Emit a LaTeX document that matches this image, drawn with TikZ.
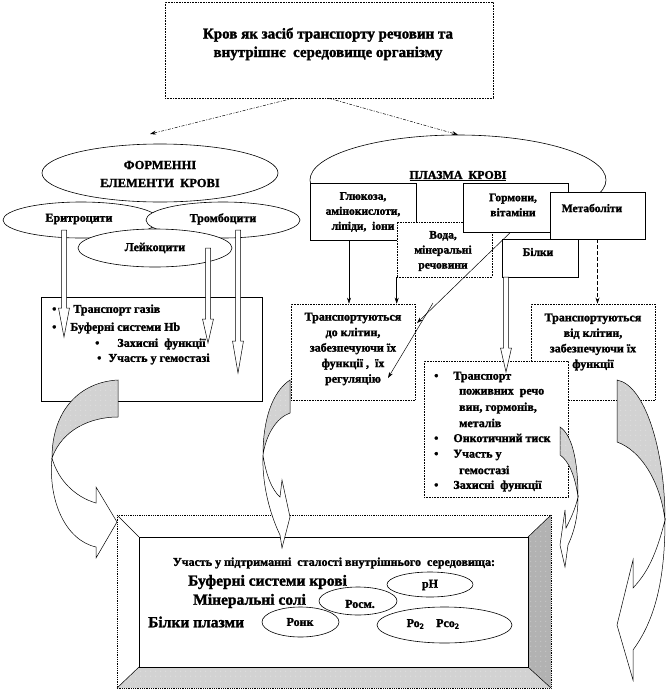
\documentclass[tikz,border=0pt]{standalone}
\usepackage{fontspec}
\setmainfont{Liberation Serif}[BoldFeatures={FakeBold=1.6}]
\usetikzlibrary{shapes.geometric,arrows.meta,calc,patterns.meta}
\tikzdeclarepattern{name=wdots, type=uncolored, bounding box={(0pt,0pt) and (5pt,5pt)}, tile size={(5pt,5pt)}, code={\fill (1pt,1pt) circle (0.45pt);}}
\newcommand\hollowarr[4]{%
  \filldraw[fill=white, line width=0.5pt] ({#1-2.5},#2) -- ({#1+2.5},#2) -- ({#1+2.5},{#3-#4}) -- ({#1+5.5},{#3-#4}) -- (#1,#3) -- ({#1-5.5},{#3-#4}) -- ({#1-2.5},{#3-#4}) -- cycle;}
\begin{document}
\begin{tikzpicture}[x=1pt,y=-1pt,
  bx/.style={draw, fill=white, inner sep=0pt, line width=0.6pt},
  dbx/.style={bx, densely dotted},
  el/.style={draw, ellipse, fill=white, inner sep=0pt, line width=0.6pt},
  tx/.style={inner sep=0pt, align=center, font=\bfseries\fontsize{12}{15.5}\selectfont},
  ltx/.style={tx, anchor=west},
  dashconn/.style={dash pattern=on 3pt off 1.5pt on 1pt off 1.5pt, line width=0.5pt, -{Stealth[length=6pt,width=4pt]}},
  conn/.style={line width=0.5pt, -{Stealth[length=6pt,width=4pt]}},
  shd/.style={fill=gray!35, draw, line width=0.5pt, postaction={pattern={wdots}, pattern color=white}},
  wpart/.style={fill=white, draw, line width=0.5pt}
]
\useasboundingbox (0,0) rectangle (666,691);

% title
\node[dbx, minimum width=328pt, minimum height=96pt] (title) at (329,50) {};
\node[tx, font=\bfseries\fontsize{15}{18.5}\selectfont] (titletx) at (328,44) {Кров як засіб транспорту речовин та\\внутрішнє\ \ середовище організму};

% formed elements
\node[el, minimum width=236pt, minimum height=58pt] (form) at (160,173) {};
\node[tx, font=\bfseries\fontsize{12.5}{18}\selectfont] (formtx) at (160,174) {ФОРМЕННІ\\ЕЛЕМЕНТИ\ \ КРОВІ};
\node[el, minimum width=156pt, minimum height=36pt] (ery) at (81,220) {};
\node[el, minimum width=154pt, minimum height=36pt] (thr) at (223,220) {};
\node[el, minimum width=154pt, minimum height=38pt] (leu) at (155,248) {};
\node[tx] at (79,219) {Еритроцити};
\node[tx] at (223,219) {Тромбоцити};
\node[tx] at (155,248) {Лейкоцити};

% plasma
\node[el, minimum width=296pt, minimum height=90pt] (plasma) at (458,180) {};

% title arrows
\coordinate (fa) at (150,134);
\draw[dashconn] ([xshift=-36pt]title.south) -- (fa);
\draw[dashconn] (title.south) -- (plasma.north);

% left box
\node[bx, minimum width=221pt, minimum height=104pt] (lbox) at (151.5,349) {};
\node[ltx] at (52,310) {•\hspace{17pt}Транспорт газів};
\node[ltx] at (52,328) {•\hspace{14pt}Буферні системи Hb};
\node[ltx] at (95,344) {•\hspace{18pt}Захисні\ \ функції};
\node[ltx] at (97,359) {•\hspace{7pt}Участь у гемостазі};

% hollow arrows
\hollowarr{64}{230}{337}{29}
\hollowarr{208}{248}{343}{24}
\hollowarr{238}{230}{373}{32}

% plasma label
\node[tx] at (458,176) {\underline{ПЛАЗМА\ \ КРОВІ}};

% plasma boxes
\node[bx, minimum width=106pt, minimum height=57pt] (glu) at (363,211.5) {};
\node[tx, font=\bfseries\fontsize{11.5}{15}\selectfont] at (363,212) {Глюкоза,\\амінокислоти,\\ліпіди,\ \ іони};
\node[dbx, minimum width=95pt, minimum height=55pt] (voda) at (444.5,249.5) {};
\node[tx, font=\bfseries\fontsize{11.5}{15}\selectfont] at (443,251) {Вода,\\мінеральні\\речовини};
\node[bx, minimum width=105pt, minimum height=49pt] (horm) at (515.5,207.5) {};
\node[tx, font=\bfseries\fontsize{11.5}{15}\selectfont] at (513,205) {Гормони,\\вітаміни};
\node[bx, minimum width=76pt, minimum height=38pt] (bilk) at (540,258) {};
\node[tx, font=\bfseries\fontsize{11.5}{15}\selectfont] at (538,252) {Білки};
\node[bx, minimum width=95pt, minimum height=47pt] (metab) at (597.5,215.5) {};
\node[tx, font=\bfseries\fontsize{11.5}{15}\selectfont] at (592,208) {Метаболіти};

% target boxes
\node[dbx, minimum width=124pt, minimum height=96pt] (dobox) at (353,352) {};
\node[tx] at (353,349) {Транспортуються\\до клітин,\\забезпечуючи їх\\функції ,\ \ їх\\регуляцію};
\node[dbx, minimum width=124pt, minimum height=96pt] (vidbox) at (593,352) {};
\node[tx] at (593,342) {Транспортуються\\від клітин,\\забезпечуючи їх\\функції};

% connectors
\coordinate (g1) at ([xshift=-14pt]glu.south);
\draw[conn] (g1) -- (g1 |- dobox.north);
\draw[conn] (voda.south west) -- (voda.south west |- dobox.north);
\draw[dashconn, dash pattern=on 4pt off 2pt] (metab.south) -- (metab.south |- vidbox.north);
\coordinate (h1) at ([xshift=-5pt]horm.south);
\coordinate (h2) at (417,323);
\draw[conn] (h1) -- (h2);
\coordinate (r1) at (433,303);
\coordinate (r2) at (388,378);
\draw[conn] (r1) -- (r2);

% bullet box
\node[dbx, minimum width=144pt, minimum height=136pt] (pbox) at (496,429) {};
\begin{scope}[every node/.style={ltx}]
\node at (434,377) {•\hspace{15pt}Транспорт};
\node at (459,393) {поживних\ \ речо};
\node at (459,408) {вин, гормонів,};
\node at (459,423) {металів};
\node at (434,438) {•\hspace{15pt}Онкотичний тиск};
\node at (434,455) {•\hspace{15pt}Участь у};
\node at (459,470) {гемостазі};
\node at (434,486) {•\hspace{15pt}Захисні\ \ функції};
\end{scope}

\hollowarr{506}{277}{372}{24}

% bottom frame
\node[inner sep=0pt, minimum width=434pt, minimum height=173pt] (frame) at (334,601.5) {};
\fill[white] (117,515) rectangle (551,688);
\fill[gray!35] (117,688) -- (551,688) -- (528,667) -- (139,667) -- cycle;
\fill[pattern={wdots}, pattern color=white] (117,688) -- (551,688) -- (528,667) -- (139,667) -- cycle;
\fill[gray!60] (551,515) -- (551,688) -- (528,667) -- (528,537) -- cycle;
\fill[pattern={wdots}, pattern color=white] (551,515) -- (551,688) -- (528,667) -- (528,537) -- cycle;
\draw[line width=0.5pt] (139,537) rectangle (528,667);
\draw[line width=0.5pt] (117,515) -- (139,537) (551,515) -- (528,537) (117,688) -- (139,667) (551,688) -- (528,667);
\draw[densely dotted, line width=0.8pt] (117,515) rectangle (551,688);

\node[tx, font=\bfseries\fontsize{12}{13}\selectfont] at (334,563) {Участь у підтриманні\ \ сталості внутрішнього\ \ середовища:};
\node[ltx, font=\bfseries\fontsize{15.5}{16}\selectfont] at (188,582) {Буферні системи крові};
\node[ltx, font=\bfseries\fontsize{15.5}{16}\selectfont] at (193,601) {Мінеральні солі};
\node[ltx, font=\bfseries\fontsize{15.5}{16}\selectfont] at (148,622) {Білки плазми};
\node[el, minimum width=86pt, minimum height=25pt] (ph) at (430,584.5) {};
\node[tx] at (430,585) {рН};
\node[el, minimum width=78pt, minimum height=28pt] (posm) at (358,601) {};
\node[tx] at (360,604) {Росм.};
\node[el, minimum width=77pt, minimum height=30pt] (ponk) at (300.5,622) {};
\node[tx] at (300,622) {Ронк};
\node[el, minimum width=135pt, minimum height=36pt] (pgas) at (444.5,625) {};
\node[tx] at (433,624) {Ро\textsubscript{2}\ \ \ \ Рсо\textsubscript{2}};

% curved arrows
\path[shd] (118,380) .. controls (80,382) and (52,410) .. (52,458) .. controls (62,430) and (90,417) .. (118,417) -- cycle;
\path[wpart] (52,458) .. controls (58,480) and (75,497) .. (96,503) -- (96,487) -- (117,522) -- (96,558) -- (96,547) .. controls (65,540) and (48,500) .. (52,458) -- cycle;

\path[shd] (290,380) .. controls (272,392) and (263,420) .. (263,455) .. controls (266,435) and (276,418) .. (290,413) -- cycle;
\path[wpart] (263,455) .. controls (266,475) and (272,490) .. (280,497) -- (282,480) -- (290,517) -- (282,548) -- (280,535) .. controls (268,510) and (262,480) .. (263,455) -- cycle;

\path[shd] (560,427) .. controls (572,435) and (578,460) .. (578,497) .. controls (575,475) and (568,460) .. (560,455) -- cycle;
\path[wpart] (578,497) .. controls (575,510) and (570,520) .. (566,528) -- (565,510) -- (560,545) -- (565,567) -- (568,545) .. controls (575,530) and (578,515) .. (578,497) -- cycle;

\path[shd] (617,380) .. controls (645,385) and (665,450) .. (665,520) .. controls (660,480) and (640,450) .. (617,442) -- cycle;
\path[wpart] (665,520) .. controls (655,560) and (645,575) .. (633,588) -- (633,560) -- (617,625) -- (633,680) -- (633,650) .. controls (655,620) and (665,580) .. (665,520) -- cycle;
\end{tikzpicture}
\end{document}
